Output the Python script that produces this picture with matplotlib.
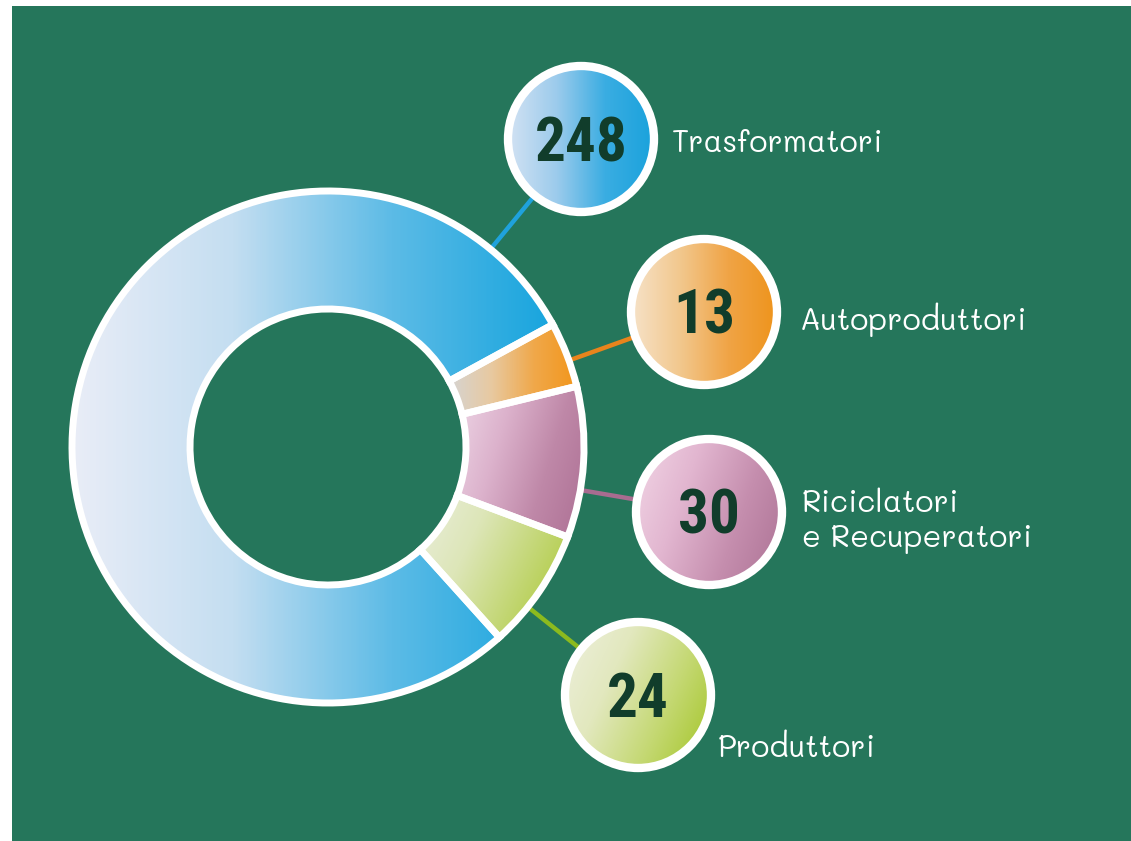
import numpy as np
import matplotlib
matplotlib.use('Agg')
import matplotlib.pyplot as plt
from matplotlib.colors import LinearSegmentedColormap
from matplotlib.patches import Circle

# ---- data ----
categories = ['Trasformatori', 'Autoproduttori', 'Riciclatori\ne Recuperatori', 'Produttori']
values = [248, 13, 30, 24]
value_labels = ['248', '13', '30', '24']

# ---- styles ----
wedge_colors = [
    ['#e9edf7', '#c4def1', '#5cbbe6', '#18a5de'],
    ['#d6d4d2', '#e8c9a0', '#f0a84a', '#f2961c'],
    ['#eed6e6', '#dcb2cc', '#bf88a8', '#ad7094'],
    ['#eaeedc', '#dde6b8', '#c2d672', '#a8c62c'],
]
bubble_colors = [
    ['#d2e2f3', '#9ccbec', '#3aade2', '#1aa2dc'],
    ['#f6e2c8', '#f2c88e', '#f0a446', '#ee941c'],
    ['#f2d6e6', '#e2b6d0', '#c58eae', '#ac7294'],
    ['#eef0de', '#e2e8be', '#c4d872', '#a2c424'],
]
line_colors = ['#1fa2dc', '#e8841c', '#a86c90', '#8cba1e']
grad_dirs = [0, 0, -20, -25]
bg = '#25765b'
num_color = '#113d2b'
num_font = ['Roboto Condensed', 'Fjalla One', 'DejaVu Sans']
label_font = ['Mali', 'Short Stack', 'DejaVu Sans']

W, H = 1131, 841
fig = plt.figure(figsize=(W / 100, H / 100), dpi=100, facecolor='white')
ax = fig.add_axes([12 / W, 0, 1 - 12 / W, (H - 6) / H])
ax.set_facecolor(bg)

# layout (pixel-like coordinates, y up)
cx, cy = 328, H - 447
R_out, R_in = 256, 138
bubbles = [(581, H - 139), (704, H - 312), (709, H - 512), (638, H - 695)]
R_b = 73
label_pos = [(672, H - 152), (800, H - 330), (802, H - 512), (718, H - 757)]
line_step = 35


def grad_image(cmap_colors, bb, angle, zorder, clip):
    cmap = LinearSegmentedColormap.from_list('g', cmap_colors)
    n = 200
    xs = np.linspace(0, 1, n)
    X, Y = np.meshgrid(xs, xs)
    a = np.deg2rad(angle)
    G = X * np.cos(a) + Y * np.sin(a)
    G = (G - G.min()) / (G.max() - G.min())
    im = ax.imshow(G, cmap=cmap, extent=(bb[0], bb[1], bb[2], bb[3]), origin='lower',
                   aspect='auto', zorder=zorder, interpolation='bilinear')
    im.set_clip_path(clip)
    return im


# connector lines (under everything)
for (bx, by), col in zip(bubbles, line_colors):
    ang = np.arctan2(by - cy, bx - cx)
    x0, y0 = cx + (R_out - 5) * np.cos(ang), cy + (R_out - 5) * np.sin(ang)
    ax.plot([x0, bx], [y0, by], color=col, lw=3.2, zorder=2, solid_capstyle='butt')

# donut
wedges, _ = ax.pie(values, center=(cx, cy), radius=R_out, startangle=-48, counterclock=False,
                   wedgeprops=dict(width=R_out - R_in, facecolor='none', edgecolor='white',
                                   linewidth=5, zorder=4))
for w, cols, gd in zip(wedges, wedge_colors, grad_dirs):
    e = w.get_path().get_extents()
    grad_image(cols, (e.x0, e.x1, e.y0, e.y1), gd, 3, w)

# bubbles
for (bx, by), cols, gd, txt in zip(bubbles, bubble_colors, grad_dirs, value_labels):
    c = Circle((bx, by), R_b, facecolor='none', edgecolor='white', lw=6, zorder=6)
    ax.add_patch(c)
    grad_image(cols, (bx - R_b, bx + R_b, by - R_b, by + R_b), gd, 5, c)
    ax.text(bx, by - 22, txt, fontsize=44, fontweight='black', family=num_font,
            color=num_color, ha='center', va='baseline', zorder=7)

# labels
for (lx, ly), cat in zip(label_pos, categories):
    for i, line in enumerate(cat.split('\n')):
        ax.text(lx, ly - i * line_step, line, fontsize=22, family=label_font,
                color='white', ha='left', va='baseline', zorder=7)

ax.add_patch(plt.Rectangle((12, 0), W - 12, H - 6, facecolor=bg, zorder=0))
ax.set_xlim(12, W)
ax.set_ylim(0, H - 6)
ax.set_aspect('auto')
ax.axis('off')

fig.savefig('out.png', dpi=100, facecolor='white')
